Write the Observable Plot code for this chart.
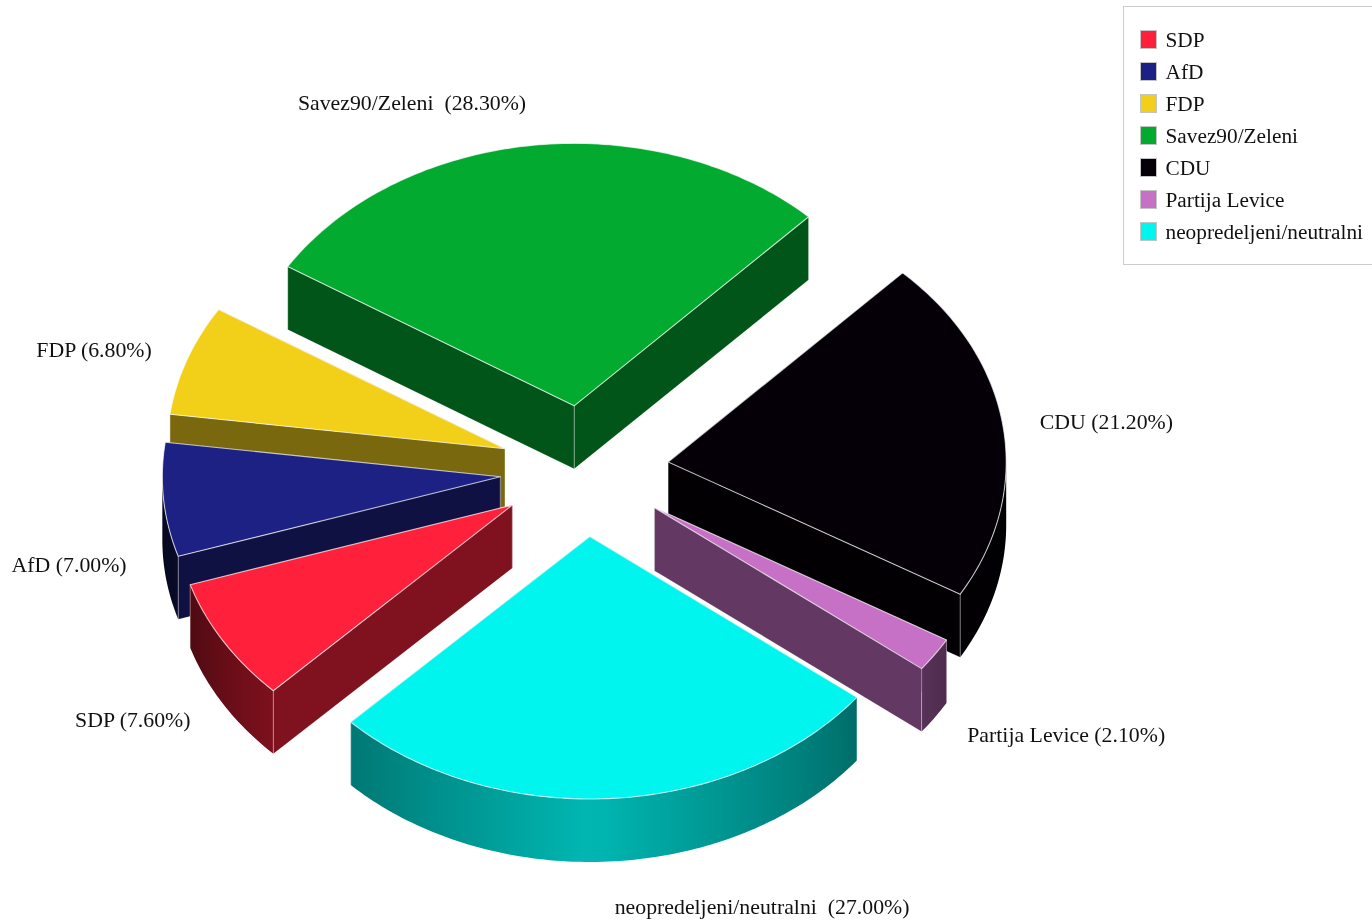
<!DOCTYPE html>
<html>
<head>
<meta charset="utf-8">
<script src="https://cdn.jsdelivr.net/npm/d3@7"></script>
<script src="https://cdn.jsdelivr.net/npm/@observablehq/plot@0.6"></script>
<style>
html,body{margin:0;padding:0;background:#fff;overflow:hidden;width:1372px;height:921px}
#wrap{position:relative;width:1372px;height:921px;overflow:hidden;filter:blur(0.45px)}
#wrap svg{position:absolute;left:0;top:0;display:block}
#legend{position:absolute;left:1123px;top:6px;width:300px;height:257px;border:1px solid #ccc;background:#fff;font:21.3px "Liberation Serif",serif;color:#111}
#legend .sw{position:absolute;left:16px;width:15px;height:17px;border:1px solid #c4c4c4}
#legend .tx{position:absolute;left:41.5px;line-height:24px;white-space:pre}
</style>
</head>
<body>
<div id="wrap"></div>
<script>
const parties = ["SDP","AfD","FDP","Savez90/Zeleni","CDU","Partija Levice","neopredeljeni/neutralni"];
const shares  = [7.6,7.0,6.8,28.3,21.2,2.1,27.0];
const colors  = ["#FF213B","#1D2183","#F2D01A","#02AA30","#050008","#C671C6","#00F5EE"];

// pie geometry
const W = 1372, H = 921;
const cx = 584, cy = 470.5, rx = 338, ry = 262.5, depth = 63, explode = 0.25, startDeg = 135;
const rad = d => d * Math.PI / 180;
const shade = (col, k) => { const c = d3.rgb(col); return d3.rgb(c.r*k, c.g*k, c.b*k).formatHex(); };
const edge = "rgba(255,255,255,0.7)";

let cum = 0;
const wedges = parties.map((name,i) => {
  const t0 = startDeg + cum * 3.6; cum += shares[i];
  const t1 = startDeg + cum * 3.6;
  const mid = (t0 + t1) / 2;
  const ax = cx + explode * rx * Math.cos(rad(mid));
  const ay = cy + explode * ry * Math.sin(rad(mid));
  return {name, value: shares[i], color: colors[i], t0, t1, mid, ax, ay, id: i};
});

const rim = (w,t,dz=0) => ({x: w.ax + rx*Math.cos(rad(t)), y: w.ay + ry*Math.sin(rad(t)) + dz});
const face = (pts, fill, stroke="none", strokeWidth=1) =>
  Plot.line(pts, {x:"x", y:"y", curve:"linear-closed", fill, stroke, strokeWidth});
const wallShade = c => { const a = Math.min(1, Math.abs(c)); return 0.75 - 0.36*a - 0.15*Math.pow(a,8); };

// visible range of the outer wall of a wedge
const visibleRange = w => {
  const ts = d3.range(w.t0, w.t1, 0.25).concat(w.t1).filter(t => Math.sin(rad(t)) >= 0);
  return ts.length > 1 ? [ts[0], ts[ts.length-1]] : null;
};

// gradients for the curved walls, shading by horizontal position
const defsMark = () => {
  const defs = d3.create("svg:defs");
  for (const w of wedges) {
    const r = visibleRange(w);
    if (!r) continue;
    const xs = d3.range(r[0], r[1], 0.25).concat(r[1]).map(t => rim(w,t).x);
    const [x0,x1] = d3.extent(xs);
    const g = defs.append("linearGradient").attr("id",`wall${w.id}`)
      .attr("gradientUnits","userSpaceOnUse")
      .attr("x1",x0).attr("x2",x1).attr("y1",0).attr("y2",0);
    for (let k=0;k<=24;k++) {
      const o = k/24, x = x0 + o*(x1-x0);
      g.append("stop").attr("offset",o).attr("stop-color",shade(w.color, wallShade((x-w.ax)/rx)));
    }
  }
  return defs.node();
};

const marks = [defsMark];
for (const w of d3.sort(wedges, w => Math.sin(rad(w.mid)))) {
  const dark = shade(w.color, 0.5);
  const apex = {x:w.ax, y:w.ay}, apexB = {x:w.ax, y:w.ay+depth};
  const a = rim(w,w.t0), b = rim(w,w.t1), aB = rim(w,w.t0,depth), bB = rim(w,w.t1,depth);
  // radial walls, back one first
  const radial = [[a,aB],[b,bB]].sort((p,q)=>p[0].y-q[0].y);
  for (const [p,q] of radial) marks.push(face([apex,p,q,apexB], dark, "rgba(255,255,255,0.15)", 0.7));
  // outer curved wall, only where it faces the viewer
  const r = visibleRange(w);
  if (r) {
    const ts = d3.range(r[0], r[1], 1).concat(r[1]);
    const wall = ts.map(t => rim(w,t)).concat(ts.slice().reverse().map(t => rim(w,t,depth)));
    marks.push(face(wall, `url(#wall${w.id})`));
  }
  // vertical edges at apex and rim corners
  for (const [p,q] of [[apex,apexB],[a,aB],[b,bB]])
    marks.push(Plot.line([p,q], {x:"x", y:"y", stroke:"rgba(255,255,255,0.4)", strokeWidth:0.9}));
  // top face
  const top = [apex];
  for (let t = w.t0; t < w.t1; t += 1) top.push(rim(w,t));
  top.push(b);
  marks.push(face(top, w.color, edge, 1.1));
}

// slice labels
const labels = wedges.map(w => {
  const c = Math.cos(rad(w.mid)), s = Math.sin(rad(w.mid));
  const f = 1.36 + (s > 0 ? 0.063 : 0.055)*Math.pow(s,4);
  return {
    text: `${w.name}${w.name.includes("/") ? " \u00a0" : " "}(${w.value.toFixed(2)}%)`,
    x: cx + f*rx*c, y: cy + f*ry*s + (s > 0 ? depth : 0), side: c < 0 ? "end" : "start"
  };
});
for (const side of ["end","start"])
  marks.push(Plot.text(labels.filter(d => d.side === side), {
    x:"x", y:"y", text:"text", textAnchor:side, fontSize:21.8, fill:"#111", lineAnchor:"middle"
  }));

const chart = Plot.plot({
  width:W, height:H, margin:0,
  style:{fontFamily:'"Liberation Serif",serif', background:"#fff", overflow:"hidden"},
  x:{domain:[0,W], range:[0,W], axis:null},
  y:{domain:[0,H], range:[0,H], axis:null},
  marks
});
const wrap = document.getElementById("wrap");
wrap.appendChild(chart);

// legend box
const legend = document.createElement("div");
legend.id = "legend";
parties.forEach((p,i) => {
  const sw = document.createElement("div");
  sw.className = "sw"; sw.style.top = (23 + 32*i) + "px"; sw.style.background = colors[i];
  const tx = document.createElement("div");
  tx.className = "tx"; tx.style.top = (21 + 32*i) + "px"; tx.textContent = p;
  legend.append(sw, tx);
});
wrap.appendChild(legend);
</script>
</body>
</html>
